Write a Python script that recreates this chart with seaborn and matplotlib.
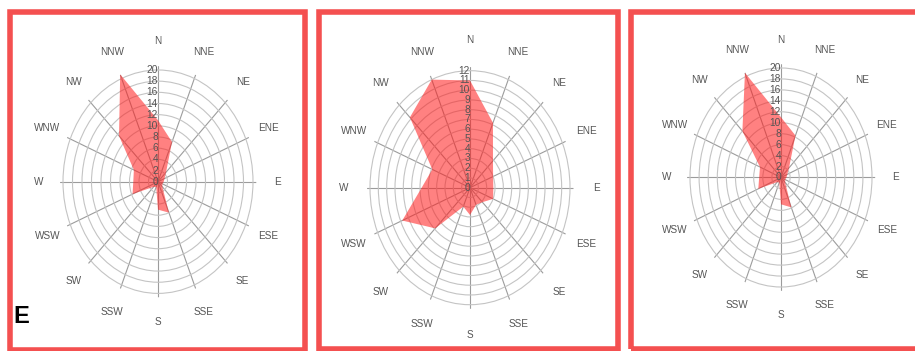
import numpy as np
import matplotlib
matplotlib.use('Agg')
import matplotlib.pyplot as plt
from matplotlib.patches import Rectangle
import seaborn as sns

sns.set_theme(style='white')
plt.rcParams['font.family'] = ['Liberation Sans', 'DejaVu Sans']

# 16 compass sectors, clockwise from north
directions = ['N', 'NNE', 'NE', 'ENE', 'E', 'ESE', 'SE', 'SSE',
              'S', 'SSW', 'SW', 'WSW', 'W', 'WNW', 'NW', 'NNW']

# frequency per direction, one list per panel
freq_left = [11.0, 7.7, 2.4, 1.5, 1.2, 1.0, 1.3, 6.0,
             5.0, 1.0, 1.3, 5.8, 5.2, 5.5, 11.6, 20.8]
freq_mid = [11.0, 7.2, 3.9, 3.0, 2.8, 3.0, 2.1, 1.9,
            2.8, 2.1, 5.9, 8.8, 5.8, 4.9, 10.2, 12.0]
freq_right = [11.0, 8.3, 2.5, 1.5, 1.2, 1.0, 1.3, 5.9,
              4.9, 1.0, 1.2, 5.4, 4.8, 5.0, 12.0, 20.7]

rmax_left, step_left = 20, 2
rmax_mid, step_mid = 12, 1
rmax_right, step_right = 20, 2

W, H = 915, 351
fig = plt.figure(figsize=(W / 100, H / 100), dpi=100)

# layout in image pixels: centre, radii of outer ring, border box
layout = [
    dict(values=freq_left, rmax=rmax_left, step=step_left,
         cx=158, cy=181.7, rx=95, ry=111.7, box=(9.5, 12.3, 304.5, 349.5)),
    dict(values=freq_mid, rmax=rmax_mid, step=step_mid,
         cx=470, cy=187.7, rx=100, ry=117, box=(319, 11.7, 617.5, 349)),
    dict(values=freq_right, rmax=rmax_right, step=step_right,
         cx=781, cy=177.5, rx=91, ry=109.5, box=(631, 11.5, 925, 348.5)),
]

ext = 1.035
text_col = '#555555'
theta = np.deg2rad(np.arange(len(directions)) * 22.5)

for p in layout:
    rx, ry = p['rx'] * ext, p['ry'] * ext
    ax = fig.add_axes([(p['cx'] - rx) / W, 1 - (p['cy'] + ry) / H,
                       2 * rx / W, 2 * ry / H], projection='polar')
    ax.set_aspect('auto')
    ax.set_theta_zero_location('N')
    ax.set_theta_direction(-1)
    ax.fill(theta, p['values'], color='#ff1a1a', alpha=0.55, lw=0,
            clip_on=False, zorder=1)
    ax.set_ylim(0, p['rmax'] * ext)
    ax.set_yticks(np.arange(p['step'], p['rmax'] + p['step'], p['step']))
    ax.set_yticklabels([])
    ax.set_xticks(theta)
    ax.set_xticklabels([])
    ax.spines['polar'].set_visible(False)
    ax.yaxis.grid(True, color='#c4c4c4', lw=0.8)
    ax.xaxis.grid(True, color='#9c9c9c', lw=0.8)
    ax.set_facecolor('white')

    for v in range(0, p['rmax'] + 1, p['step']):
        ax.text(0, v, str(v), ha='right', va='center', fontsize=7.4,
                color=text_col, zorder=3)
    for th, d in zip(theta, directions):
        ax.text(th, p['rmax'] * 1.26, d, ha='center', va='center',
                fontsize=7.2, color=text_col, clip_on=False)

    x0, y0, x1, y1 = p['box']
    fig.add_artist(Rectangle((x0 / W, 1 - y1 / H), (x1 - x0) / W, (y1 - y0) / H,
                             transform=fig.transFigure, fill=False,
                             ec='#f45050', lw=4))

fig.text(13 / W, 1 - 323 / H, 'E', fontsize=17, fontweight='bold',
         color='black', ha='left', va='baseline')

fig.savefig('out.png', dpi=100)
